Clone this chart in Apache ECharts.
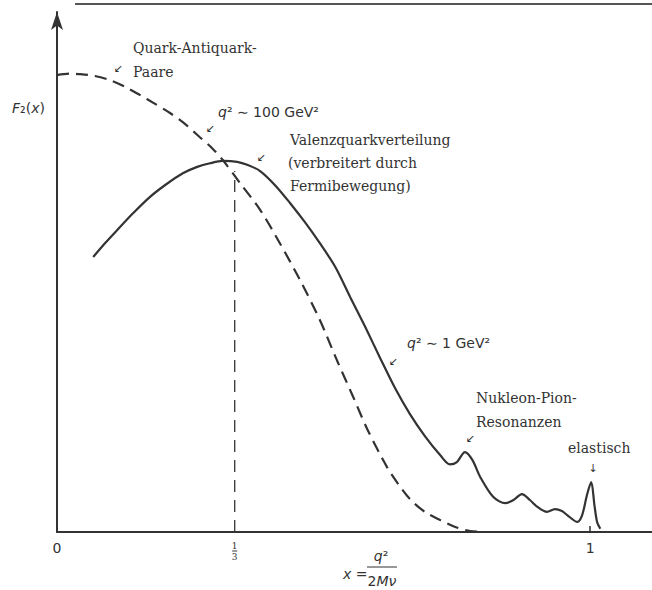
<!DOCTYPE html>
<html><head><meta charset="utf-8">
<script src="https://cdn.jsdelivr.net/npm/echarts@6/dist/echarts.min.js"></script>
<style>html,body{margin:0;padding:0;background:#fff}#c{width:652px;height:590px}</style>
</head><body><div id="c"></div>
<script>
// x-axis tick labels
const xLabelValues = [0, 1/3, 1];
const xTickValues = [1];
// F2(x) at q^2 ~ 100 GeV^2 (dashed)
const highQ2 = [
  [0.000,1.000],[0.024,1.003],[0.043,1.002],[0.071,0.998],[0.099,0.989],[0.128,0.974],
  [0.156,0.956],[0.184,0.937],[0.212,0.917],[0.240,0.893],[0.268,0.864],[0.291,0.840],
  [0.311,0.814],[0.343,0.764],[0.381,0.705],[0.418,0.632],[0.456,0.551],[0.493,0.464],
  [0.525,0.376],[0.555,0.297],[0.582,0.225],[0.619,0.142],[0.640,0.105],[0.662,0.072],
  [0.690,0.044],[0.719,0.026],[0.747,0.011],[0.775,0.002],[0.803,0.000]
];
// F2(x) at q^2 ~ 1 GeV^2 (solid)
const lowQ2 = [
  [0.068,0.602],[0.090,0.632],[0.113,0.661],[0.143,0.698],[0.174,0.733],[0.205,0.761],
  [0.236,0.785],[0.263,0.799],[0.287,0.807],[0.311,0.812],[0.338,0.810],[0.358,0.803],
  [0.381,0.790],[0.409,0.759],[0.437,0.720],[0.465,0.678],[0.493,0.632],[0.522,0.580],
  [0.550,0.514],[0.578,0.449],[0.606,0.381],[0.634,0.315],[0.662,0.258],[0.690,0.210],
  [0.719,0.168],[0.737,0.148],[0.750,0.153],[0.765,0.175],[0.779,0.158],[0.794,0.120],
  [0.818,0.077],[0.841,0.063],[0.856,0.070],[0.872,0.083],[0.887,0.070],[0.901,0.055],
  [0.919,0.044],[0.934,0.050],[0.947,0.046],[0.957,0.037],[0.976,0.022],[0.985,0.037],
  [0.994,0.081],[1.002,0.109],[1.008,0.059],[1.013,0.022],[1.019,0.007]
];
// vertical marker at x = 1/3
const thirdMarker = [[1/3,0],[1/3,0.79]];

const ink = '#333';
const serif = "'DejaVu Serif', serif";
const sans = "'DejaVu Sans', sans-serif";
function note(x, y, text) {
  return {type:'text', x:x, y:y, style:{text:text, fill:ink, fontFamily:serif, fontSize:14, verticalAlign:'middle'}};
}
function sansText(x, y, text, align) {
  return {type:'text', x:x, y:y, style:{text:text, fill:ink, fontFamily:sans, fontSize:14, align:align||'left', verticalAlign:'middle',
    rich:{i:{fontStyle:'italic', fontSize:14, fontFamily:sans, fill:ink}}}};
}
function arrow(x, y, ch) {
  return {type:'text', x:x, y:y, style:{text:ch||'↙', fill:ink, fontFamily:sans, fontSize:11, align:'center', verticalAlign:'middle'}};
}

const chart = echarts.init(document.getElementById('c'), null, {renderer:'svg'});
chart.setOption({
  animation:false,
  backgroundColor:'#fff',
  grid:{left:57, right:0, top:12, bottom:58},
  xAxis:{
    type:'value', min:0, max:1.116,
    axisLine:{lineStyle:{color:ink, width:2}},
    splitLine:{show:false},
    axisTick:{show:true, inside:true, length:6, customValues:xTickValues, lineStyle:{color:ink, width:1.5}},
    axisLabel:{
      customValues:xLabelValues, margin:9, color:ink, fontFamily:sans, fontSize:14,
      formatter:function(v){ if (v === 0) return '0'; if (v === 1) return '1'; return '{n|1}\n{b| }\n{n|3}'; },
      rich:{n:{fontSize:9, fontFamily:serif, lineHeight:9, align:'center'}, b:{width:5, height:1, lineHeight:2, backgroundColor:ink, align:'center', fontSize:1}}
    }
  },
  yAxis:{
    type:'value', min:0, max:1.138,
    axisLine:{show:true, symbol:['none','arrow'], symbolSize:[9,18], lineStyle:{color:ink, width:2}},
    axisTick:{show:false}, axisLabel:{show:false}, splitLine:{show:false}
  },
  series:[
    {type:'line', data:highQ2, smooth:0.3, symbol:'none', lineStyle:{color:ink, width:2.2, type:[12,7]}},
    {type:'line', data:lowQ2, smooth:0.3, symbol:'none', lineStyle:{color:ink, width:2.2}},
    {type:'line', data:thirdMarker, symbol:'none', lineStyle:{color:ink, width:1.3, type:[12,8]}}
  ],
  graphic:[
    {type:'line', shape:{x1:75, y1:4, x2:652, y2:4}, style:{stroke:'#555', lineWidth:2}},
    sansText(12, 108, '{i|F}₂({i|x})'),
    note(133, 48, 'Quark-Antiquark-'),
    note(133, 72, 'Paare'),
    arrow(118, 68),
    sansText(218, 112, '{i|q}² ∼ 100 GeV²'),
    arrow(210, 128),
    note(290, 140, 'Valenzquarkverteilung'),
    note(288, 163, '(verbreitert durch'),
    note(290, 186, 'Fermibewegung)'),
    arrow(261, 157),
    sansText(407, 343, '{i|q}² ∼ 1 GeV²'),
    arrow(393, 361),
    note(476, 398, 'Nukleon-Pion-'),
    note(476, 422, 'Resonanzen'),
    arrow(470, 438),
    note(568, 448, 'elastisch'),
    arrow(593, 468, '↓'),
    sansText(343, 574, '{i|x} ='),
    sansText(381, 556, '{i|q}²', 'center'),
    {type:'line', shape:{x1:367, y1:567, x2:397, y2:567}, style:{stroke:ink, lineWidth:1}},
    sansText(382, 581, '2{i|Mν}', 'center')
  ]
});
</script></body></html>
